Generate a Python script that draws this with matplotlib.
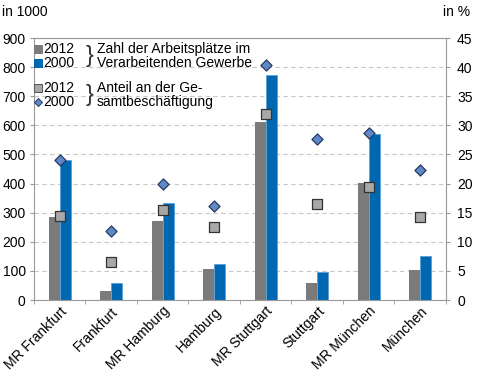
import numpy as np
import matplotlib
matplotlib.use("Agg")
import matplotlib.pyplot as plt
import matplotlib.transforms as mtransforms
from matplotlib.lines import Line2D

# Daten
regionen = ["MR Frankfurt", "Frankfurt", "MR Hamburg", "Hamburg",
            "MR Stuttgart", "Stuttgart", "MR München", "München"]
arbeitsplaetze_2012 = [286, 32, 272, 105, 612, 59, 403, 103]
arbeitsplaetze_2000 = [481, 57, 332, 123, 773, 97, 569, 152]
anteil_2012 = [14.5, 6.6, 15.5, 12.5, 31.9, 16.5, 19.4, 14.3]
anteil_2000 = [24.0, 11.8, 19.9, 16.1, 40.3, 27.6, 28.6, 22.4]

GRAU = "#7b7b7b"
BLAU = "#0067b1"
QUADRAT = "#a8a8a8"
RAUTE = "#5f89c6"

plt.rcParams["font.family"] = ["Liberation Sans", "DejaVu Sans"]
plt.rcParams["font.size"] = 10

W, H = 485, 389
fig = plt.figure(figsize=(W / 100, H / 100), dpi=100)


def px(x, y):
    return x / W, 1 - y / H


x0, y0 = px(34, 300)
x1, y1 = px(446, 38)
ax = fig.add_axes([x0, y0, x1 - x0, y1 - y0])

x = np.arange(len(regionen))
breite = 0.215
ax.bar(x - breite / 2, arbeitsplaetze_2012, breite, color=GRAU, zorder=2)
ax.bar(x + breite / 2, arbeitsplaetze_2000, breite, color=BLAU,
       edgecolor="#5aa0d8", linewidth=0.6, zorder=2)

ax.set_xlim(-0.5, len(regionen) - 0.5)
ax.set_ylim(0, 900)
ax.set_yticks(range(0, 901, 100))
ax.set_xticks(x)
ax.set_xticklabels(regionen, rotation=45, ha="right", rotation_mode="anchor")
verschiebung = mtransforms.ScaledTranslation(19 / 100, 0, fig.dpi_scale_trans)
for lab in ax.get_xticklabels():
    lab.set_transform(lab.get_transform() + verschiebung)
ax.set_xticks(np.arange(-0.5, len(regionen), 1), minor=True)
ax.tick_params(axis="x", which="major", length=0, pad=3)
ax.tick_params(axis="x", which="minor", length=3, color="#999999")
ax.tick_params(axis="y", length=3, color="#999999", pad=3)
for s in ax.spines.values():
    s.set_color("#999999")
    s.set_linewidth(0.8)
ax.grid(axis="y", linestyle=(0, (4, 3)), color="#c8c8c8", linewidth=0.8, zorder=0)

ax2 = ax.twinx()
ax2.set_ylim(0, 45)
ax2.set_yticks(range(0, 46, 5))
ax2.tick_params(axis="y", length=3, color="#999999", pad=5)
for s in ax2.spines.values():
    s.set_visible(False)
ax2.scatter(x, anteil_2012, marker="s", s=55, color=QUADRAT,
            edgecolor="#333333", linewidth=0.9, zorder=4)
ax2.scatter(x, anteil_2000, marker="D", s=32, color=RAUTE,
            edgecolor="#233b63", linewidth=0.9, zorder=4)

fig.text(*px(2, 12), "in 1000", va="center", ha="left")
fig.text(*px(470, 12), "in %", va="center", ha="right")

# Legende von Hand
eintraege = [
    (49, "2012", "s", GRAU, GRAU, 5.5),
    (63, "2000", "s", BLAU, BLAU, 5.5),
    (88, "2012", "s", QUADRAT, "#555555", 5.5),
    (102, "2000", "D", RAUTE, "#233b63", 4.5),
]
for yy, label, m, fc, ec, ms in eintraege:
    fig.add_artist(Line2D([px(38, yy)[0]], [px(38, yy)[1]], marker=m,
                          markersize=ms, markerfacecolor=fc,
                          markeredgecolor=ec, markeredgewidth=0.7,
                          linestyle="none"))
    fig.text(*px(43, yy), label, va="center", ha="left")

fig.text(*px(86, 56), "}", va="center", ha="left", fontsize=17,
         fontweight="light", color="#333333")
fig.text(*px(86, 95), "}", va="center", ha="left", fontsize=17,
         fontweight="light", color="#333333")
fig.text(*px(97, 49), "Zahl der Arbeitsplätze im", va="center", ha="left")
fig.text(*px(97, 63), "Verarbeitenden Gewerbe", va="center", ha="left")
fig.text(*px(97, 88), "Anteil an der Ge-", va="center", ha="left")
fig.text(*px(97, 102), "samtbeschäftigung", va="center", ha="left")

fig.savefig("out.png", dpi=100)
